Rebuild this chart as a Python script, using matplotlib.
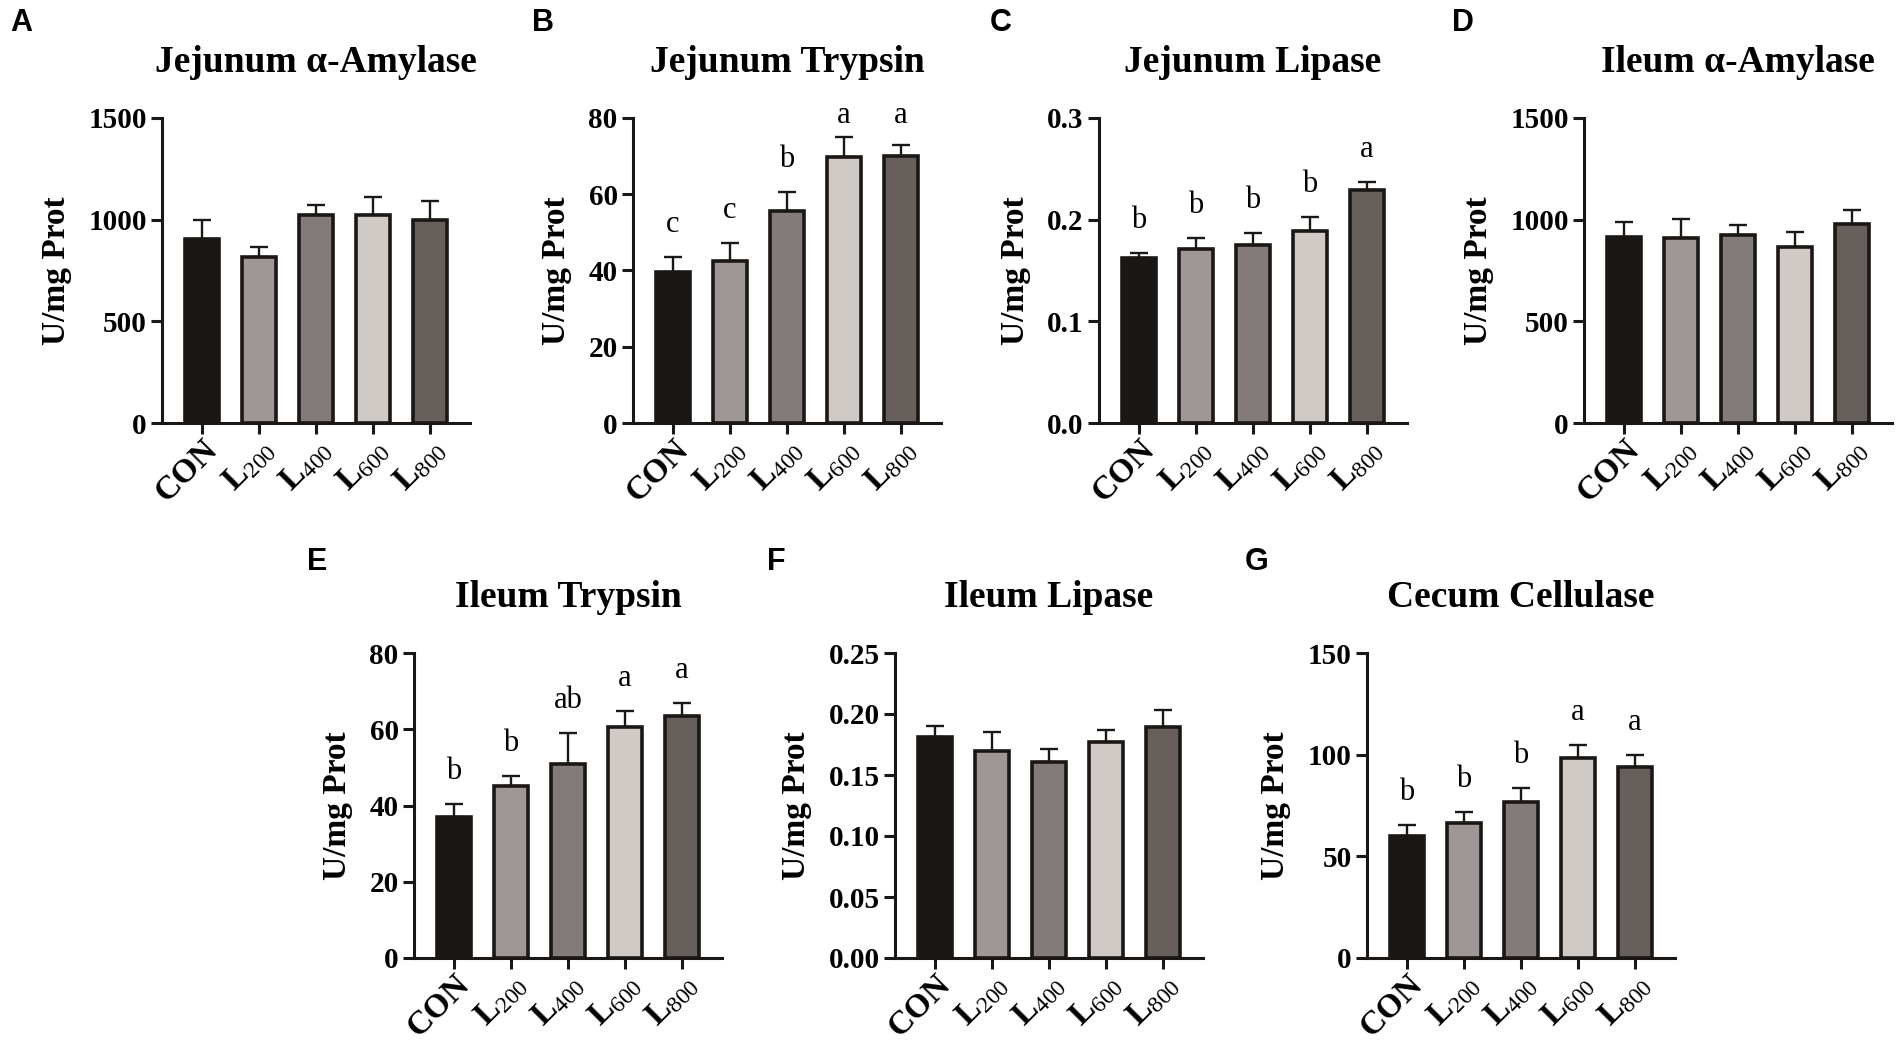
import numpy as np
import matplotlib
matplotlib.use("Agg")
from matplotlib import pyplot as plt

plt.rcParams['font.family'] = ['Liberation Serif', 'DejaVu Serif']
plt.rcParams['mathtext.fontset'] = 'custom'
plt.rcParams['mathtext.rm'] = 'Liberation Serif'
plt.rcParams['mathtext.bf'] = 'Liberation Serif:bold'
plt.rcParams['mathtext.it'] = 'Liberation Serif:italic'

groups = ['CON', 'L200', 'L400', 'L600', 'L800']
bar_colors = ['#1b1714', '#9e9697', '#837a7a', '#d0cac7', '#675f5c']

# panel data: mean and upper error (SEM) per group
jej_amylase = [905, 815, 1021, 1025, 997]
jej_amylase_err = [92, 51, 53, 85, 96]
jej_trypsin = [39.7, 42.4, 55.5, 69.9, 70.1]
jej_trypsin_err = [3.8, 4.9, 5.2, 5.0, 2.7]
jej_lipase = [0.162, 0.1715, 0.1754, 0.189, 0.229]
jej_lipase_err = [0.005, 0.0105, 0.0116, 0.014, 0.008]
ile_amylase = [913, 908, 923, 864, 980]
ile_amylase_err = [74, 94, 52, 75, 69]
ile_trypsin = [36.9, 45.1, 50.8, 60.5, 63.5]
ile_trypsin_err = [3.5, 2.7, 8.2, 4.4, 3.5]
ile_lipase = [0.181, 0.1696, 0.1605, 0.1767, 0.189]
ile_lipase_err = [0.009, 0.0154, 0.011, 0.0098, 0.014]
cec_cellulase = [60.2, 66.5, 76.8, 98.5, 93.9]
cec_cellulase_err = [5.4, 5.2, 6.7, 6.4, 5.9]

jej_trypsin_sig = ['c', 'c', 'b', 'a', 'a']
jej_lipase_sig = ['b', 'b', 'b', 'b', 'a']
ile_trypsin_sig = ['b', 'b', 'ab', 'a', 'a']
cec_cellulase_sig = ['b', 'b', 'b', 'a', 'a']

W, H = 1902, 1047
fig = plt.figure(figsize=(W / 100, H / 100), dpi=100)

# (letter, title, means, errs, sig, yticks, fmt, left px, bottom px)
panels = [
    ('A', u'Jejunum \u03b1-Amylase', jej_amylase, jej_amylase_err, None,
     [0, 500, 1000, 1500], '%d', 162, 423),
    ('B', 'Jejunum Trypsin', jej_trypsin, jej_trypsin_err, jej_trypsin_sig,
     [0, 20, 40, 60, 80], '%d', 633, 423),
    ('C', 'Jejunum Lipase', jej_lipase, jej_lipase_err, jej_lipase_sig,
     [0, 0.1, 0.2, 0.3], '%.1f', 1099, 423),
    ('D', u'Ileum \u03b1-Amylase', ile_amylase, ile_amylase_err, None,
     [0, 500, 1000, 1500], '%d', 1584, 423),
    ('E', 'Ileum Trypsin', ile_trypsin, ile_trypsin_err, ile_trypsin_sig,
     [0, 20, 40, 60, 80], '%d', 414, 958),
    ('F', 'Ileum Lipase', ile_lipase, ile_lipase_err, None,
     [0, 0.05, 0.10, 0.15, 0.20, 0.25], '%.2f', 895, 958),
    ('G', 'Cecum Cellulase', cec_cellulase, cec_cellulase_err, cec_cellulase_sig,
     [0, 50, 100, 150], '%d', 1367, 958),
]
letter_pos = {'A': (10, 31), 'B': (532, 31), 'C': (990, 31), 'D': (1452, 31),
              'E': (307, 570), 'F': (767, 570), 'G': (1245, 570)}

def tick_label(g):
    if g.startswith('L'):
        return r'$\mathbf{L}_{\mathrm{%s}}$' % g[1:]
    return g

ax_w, ax_h = 308, 305
x = np.arange(len(groups))
for letter, title, means, errs, sig, yticks, fmt, left, bottom in panels:
    ax = fig.add_axes([left / W, (H - bottom) / H, ax_w / W, ax_h / H])
    ax.errorbar(x, means, yerr=[np.zeros(len(errs)), errs], fmt='none',
                ecolor='#1b1714', elinewidth=1.7, capsize=6.5, capthick=1.7, zorder=1)
    ax.bar(x, means, width=0.6, color=bar_colors, edgecolor='#1b1714',
           linewidth=2.6, zorder=2)
    ymax = yticks[-1]
    ax.set_xlim(-0.7, 4.7)
    ax.set_ylim(0, ymax)
    ax.set_yticks(yticks)
    ax.set_yticklabels([fmt % v for v in yticks], fontweight='bold', fontsize=21)
    ax.set_xticks(x)
    ax.set_xticklabels([tick_label(g) for g in groups], fontweight='bold', fontsize=24,
                       rotation=45, ha='right', va='top', rotation_mode='anchor')
    for s in ['top', 'right']:
        ax.spines[s].set_visible(False)
    for s in ['left', 'bottom']:
        ax.spines[s].set_linewidth(2.2)
        ax.spines[s].set_color('#1b1714')
    ax.tick_params(axis='both', width=2.2, length=8, color='#1b1714')
    ax.tick_params(axis='y', pad=3)
    ax.tick_params(axis='x', pad=0)
    ax.set_ylabel('U/mg Prot', fontweight='bold', fontsize=24, labelpad=12)
    ax.text(0.5, 1 + 46 / ax_h, title, transform=ax.transAxes, ha='center',
            va='baseline', fontsize=27, fontweight='bold')
    if sig is not None:
        px = ymax / ax_h
        for i in range(len(groups)):
            ly = min(means[i] + errs[i] + 25 * px, ymax - 5 * px)
            ax.text(i, ly, sig[i], ha='center', va='baseline', fontsize=22,
                    clip_on=False)
    lx, ly = letter_pos[letter]
    fig.text(lx / W, (H - ly) / H, letter, ha='left', va='baseline',
             fontsize=22, fontweight='bold', family=['Liberation Sans', 'DejaVu Sans'])

fig.savefig('out.png', dpi=100, facecolor='white')
